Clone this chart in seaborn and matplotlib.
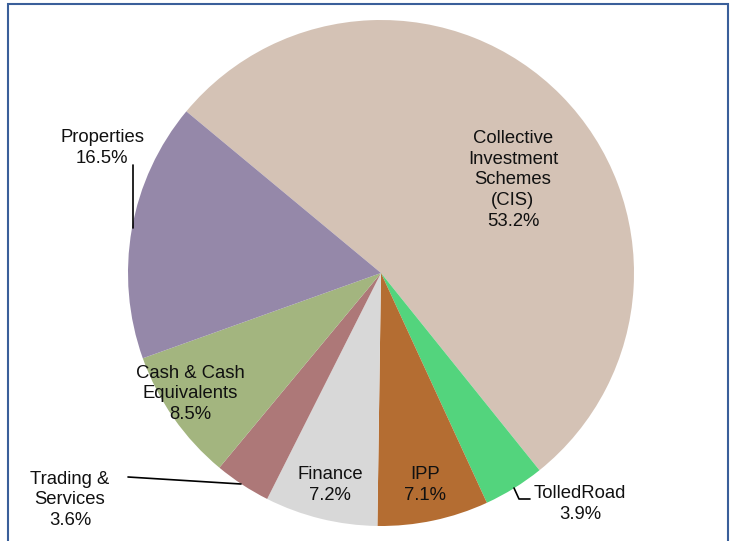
import matplotlib
matplotlib.use('Agg')
import matplotlib.pyplot as plt
from matplotlib.patches import Rectangle
import seaborn as sns

# data, clockwise from the top-left
categories = ['Collective\nInvestment\nSchemes\n(CIS)', 'TolledRoad', 'IPP', 'Finance',
              'Trading &\nServices', 'Cash & Cash\nEquivalents', 'Properties']
shares = [53.2, 3.9, 7.1, 7.2, 3.6, 8.5, 16.5]
colors = ['#D4C2B5', '#53D47D', '#B46D32', '#D8D8D8', '#AD7878', '#A3B57F', '#9588A9']

sns.set_theme(style='white')
plt.rcParams['font.family'] = ['Liberation Sans', 'DejaVu Sans']

W, H = 732, 541
cx, cy, R = 381, 273, 253
fig = plt.figure(figsize=(W / 100, H / 100), dpi=100)
ax = fig.add_axes([(cx - R) / W, (H - cy - R) / H, 2 * R / W, 2 * R / H])
ax.pie(shares, colors=colors, startangle=140.3, counterclock=False, radius=1,
       wedgeprops=dict(linewidth=0))
ax.set_xlim(-1, 1)
ax.set_ylim(-1, 1)
ax.axis('off')


def d(px, py):
    # pixel position -> data coords
    return (px - cx) / R, (cy - py) / R


# label centres in pixels
label_pos = [(513, 180), (580, 504), (425, 485), (330, 485), (70, 500), (190, 394), (102, 148)]
for name, val, (px, py) in zip(categories, shares, label_pos):
    x, y = d(px, py)
    ax.text(x, y, f'{name}\n{val:.1f}%', ha='center', va='center', fontsize=13.3,
            color='#111111', linespacing=1.3, clip_on=False)

# leader lines
leaders = [
    [(133, 165), (133, 228)],
    [(128, 477), (241, 484)],
    [(514, 488), (519, 499), (530, 499)],
]
for pts in leaders:
    xs, ys = zip(*[d(px, py) for px, py in pts])
    ax.plot(xs, ys, color='black', lw=1.2, clip_on=False)

# chart frame
fig.patches.append(Rectangle((8 / W, -0.05), 720 / W, 1.05 - 4.5 / H, transform=fig.transFigure,
                             fill=False, edgecolor='#3A5F9A', lw=1.5))

fig.savefig('out.png', dpi=100)
